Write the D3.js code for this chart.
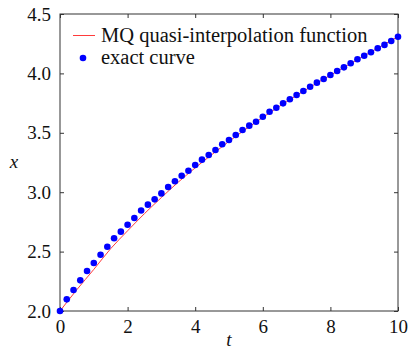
<!DOCTYPE html>
<html>
<head>
<meta charset="utf-8">
<script src="https://cdn.jsdelivr.net/npm/d3@7"></script>
<style>
  body { margin: 0; background: #fff; }
  svg text { font-family: "Liberation Serif", "Times New Roman", serif; fill: #111; }
</style>
</head>
<body>
<div id="chart"></div>
<script>
// exact curve samples (t every 0.2)
var tValues = [0, 0.2, 0.4, 0.6, 0.8, 1.0, 1.2, 1.4, 1.6, 1.8, 2.0, 2.2, 2.4, 2.6, 2.8, 3.0,
  3.2, 3.4, 3.6, 3.8, 4.0, 4.2, 4.4, 4.6, 4.8, 5.0, 5.2, 5.4, 5.6, 5.8, 6.0, 6.2, 6.4,
  6.6, 6.8, 7.0, 7.2, 7.4, 7.6, 7.8, 8.0, 8.2, 8.4, 8.6, 8.8, 9.0, 9.2, 9.4, 9.6, 9.8, 10.0];
var exactValues = [2.000, 2.098, 2.177, 2.258, 2.337, 2.404, 2.474, 2.541, 2.612, 2.668,
  2.726, 2.783, 2.846, 2.895, 2.940, 2.990, 3.044, 3.092, 3.139, 3.181, 3.229, 3.274,
  3.313, 3.355, 3.403, 3.439, 3.481, 3.523, 3.560, 3.593, 3.635, 3.677, 3.711, 3.748,
  3.782, 3.818, 3.852, 3.888, 3.922, 3.953, 3.987, 4.020, 4.051, 4.085, 4.119, 4.149,
  4.178, 4.212, 4.240, 4.273, 4.309];

// MQ quasi-interpolation line
var mqT = [0, 0.5, 1.0, 1.5, 2.0, 2.5, 3.0, 3.5, 4.0, 4.5, 5.0, 6.0, 7.0, 8.0, 9.0, 10.0];
var mqValues = [2.0, 2.18, 2.35, 2.525, 2.675, 2.82, 2.955, 3.085, 3.205, 3.318, 3.428,
  3.63, 3.815, 3.985, 4.148, 4.31];

var xTicks = [0, 2, 4, 6, 8, 10];
var yTicks = [2.0, 2.5, 3.0, 3.5, 4.0, 4.5];
var legendLabels = ['MQ quasi-interpolation function', 'exact curve'];

var W = 414, H = 351;
var margin = { top: 14, right: 16, bottom: 40, left: 60 };
var fontSize = 19;
var legendFont = 20.5;
var red = '#ff3b3b';

var svg = d3.select('#chart').append('svg')
  .attr('width', W)
  .attr('height', H);

var x = d3.scaleLinear().domain([0, 10]).range([margin.left, W - margin.right]);
var y = d3.scaleLinear().domain([2.0, 4.5]).range([H - margin.bottom, margin.top]);

var tickLen = 4;
var axisColor = '#333';

// frame
svg.append('rect')
  .attr('x', x(0)).attr('y', y(4.5))
  .attr('width', x(10) - x(0)).attr('height', y(2.0) - y(4.5))
  .attr('fill', 'none').attr('stroke', axisColor).attr('stroke-width', 1);

// axes with inward ticks
function styleAxis(g) {
  g.select('.domain').remove();
  g.selectAll('.tick line').attr('stroke', axisColor);
  g.selectAll('.tick text')
    .style('font-size', fontSize + 'px')
    .style('font-family', '"Liberation Serif", serif')
    .attr('fill', '#111');
}

svg.append('g')
  .attr('transform', 'translate(0,' + y(2.0) + ')')
  .call(d3.axisBottom(x).tickValues(xTicks).tickSizeInner(-tickLen).tickSizeOuter(0).tickPadding(9).tickFormat(d3.format('d')))
  .call(styleAxis);

svg.append('g')
  .attr('transform', 'translate(0,' + y(4.5) + ')')
  .call(d3.axisTop(x).tickValues(xTicks).tickSizeInner(-tickLen).tickSizeOuter(0).tickFormat(''))
  .call(styleAxis);

svg.append('g')
  .attr('transform', 'translate(' + x(0) + ',0)')
  .call(d3.axisLeft(y).tickValues(yTicks).tickSizeInner(-tickLen).tickSizeOuter(0).tickPadding(9).tickFormat(d3.format('.1f')))
  .call(styleAxis);

svg.append('g')
  .attr('transform', 'translate(' + x(10) + ',0)')
  .call(d3.axisRight(y).tickValues(yTicks).tickSizeInner(-tickLen).tickSizeOuter(0).tickFormat(''))
  .call(styleAxis);

// axis labels
svg.append('text')
  .attr('x', (x(0) + x(10)) / 2)
  .attr('y', 346)
  .attr('text-anchor', 'middle')
  .style('font-size', fontSize + 'px')
  .style('font-style', 'italic')
  .text('t');

svg.append('text')
  .attr('x', 14)
  .attr('y', 168)
  .attr('text-anchor', 'middle')
  .style('font-size', fontSize + 'px')
  .style('font-style', 'italic')
  .text('x');

// MQ line
var mqData = mqT.map(function(t, i) { return { t: t, v: mqValues[i] }; });
var line = d3.line()
  .x(function(d) { return x(d.t); })
  .y(function(d) { return y(d.v); })
  .curve(d3.curveMonotoneX);

svg.append('path')
  .datum(mqData)
  .attr('d', line)
  .attr('fill', 'none')
  .attr('stroke', red)
  .attr('stroke-width', 1);

// exact curve dots
var exactData = tValues.map(function(t, i) { return { t: t, v: exactValues[i] }; });
svg.append('g')
  .selectAll('circle')
  .data(exactData)
  .enter()
  .append('circle')
  .attr('cx', function(d) { return x(d.t); })
  .attr('cy', function(d) { return y(d.v); })
  .attr('r', 3.3)
  .attr('fill', '#0000ff');

// legend
var legend = svg.append('g');
legend.append('line')
  .attr('x1', 73).attr('x2', 95)
  .attr('y1', 35.5).attr('y2', 35.5)
  .attr('stroke', red).attr('stroke-width', 1);
legend.append('circle')
  .attr('cx', 83).attr('cy', 58).attr('r', 3.3)
  .attr('fill', '#0000ff');
legend.selectAll('text')
  .data(legendLabels)
  .enter()
  .append('text')
  .attr('x', 101)
  .attr('y', function(d, i) { return 41.5 + i * 22.5; })
  .style('font-size', legendFont + 'px')
  .text(function(d) { return d; });
</script>
</body>
</html>
